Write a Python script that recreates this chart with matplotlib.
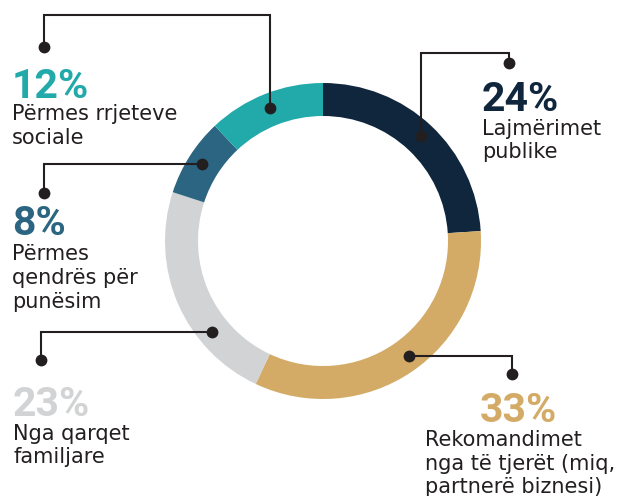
import numpy as np
import matplotlib.pyplot as plt

# slices, clockwise from 12 o'clock
shares = [24, 33, 23, 8, 12]
pct_labels = ["24%", "33%", "23%", "8%", "12%"]
descriptions = [
    ["Lajmërimet", "publike"],
    ["Rekomandimet", "nga të tjerët (miq,", "partnerë biznesi)"],
    ["Nga qarqet", "familjare"],
    ["Përmes", "qendrës për", "punësim"],
    ["Përmes rrjeteve", "sociale"],
]
colors = ["#0f263d", "#d3ab67", "#d1d3d4", "#2c6581", "#22aaaa"]
ink = "#231f20"

W, H = 618, 496
fig = plt.figure(figsize=(W / 100, H / 100), dpi=100)
ax = fig.add_axes([0, 0, 1, 1])

cx, cy, R, ring = 323, H - 241, 158, 33
ax.pie(shares, colors=colors, startangle=90, counterclock=False, radius=R,
       center=(cx, cy), wedgeprops=dict(width=ring, linewidth=0))
ax.set_xlim(0, W)
ax.set_ylim(0, H)
ax.set_aspect("equal")
ax.set_axis_off()

# where along each slice the leader line starts (fraction of the slice)
anchor_frac = [0.5, 0.48, 0.31, 0.5, 0.5]
# leader layout: (kind, end x, end y, elbow y) in pixels from top-left
leaders = [
    ("up", 509, 63, 53),
    ("side", 512, 374, None),
    ("side", 41, 360, None),
    ("side", 44, 193, None),
    ("up", 44, 47, 15),
]
# text blocks: x of percent, baseline of percent, x of text, first baseline, line step
blocks = [
    (482, 111, 482, 135, 23),
    (480, 422, 425, 446, 23.5),
    (13, 416, 13, 440, 23),
    (12, 235, 12, 260, 24),
    (12, 98, 12, 120, 24),
]

start = 90.0
for i, v in enumerate(shares):
    span = 360.0 * v / sum(shares)
    ang = np.deg2rad(start - span * anchor_frac[i])
    start -= span
    r_a = R - ring / 2 + 2
    axp, ayp = cx + r_a * np.cos(ang), cy + r_a * np.sin(ang)

    kind, ex, ey, elbow = leaders[i]
    ey = H - ey
    if kind == "up":
        ely = H - elbow
        xs, ys = [axp, axp, ex, ex], [ayp, ely, ely, ey]
    else:
        xs, ys = [axp, ex, ex], [ayp, ayp, ey]
    ax.plot(xs, ys, color=ink, lw=1.5, solid_joinstyle="miter", zorder=3)
    ax.plot([axp, ex], [ayp, ey], "o", color=ink, ms=8.5, mec="none", zorder=4)

    px, pb, tx, tb, step = blocks[i]
    ax.text(px, H - pb, pct_labels[i], color=colors[i], fontsize=29.5,
            fontweight="bold", family="Roboto", va="baseline", ha="left")
    for j, line in enumerate(descriptions[i]):
        ax.text(tx, H - (tb + j * step), line, color=ink, fontsize=15,
                family="DejaVu Sans", va="baseline", ha="left")

fig.savefig("out.png", dpi=100)
